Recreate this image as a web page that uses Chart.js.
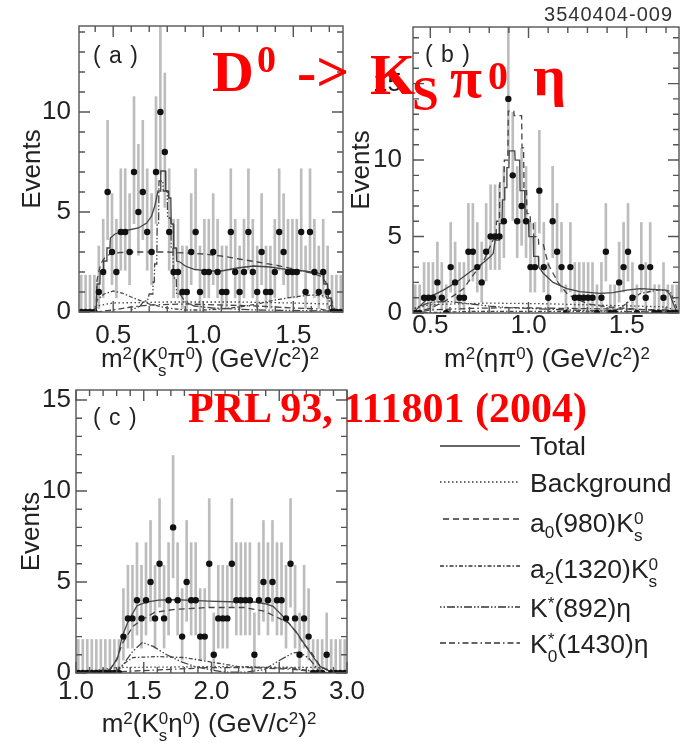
<!DOCTYPE html>
<html>
<head>
<meta charset="utf-8">
<script src="https://cdn.jsdelivr.net/npm/chart.js@4.4.1/dist/chart.umd.min.js"></script>
<style>
  body { margin: 0; background: #fff; }
  #page { position: relative; width: 690px; height: 743px; overflow: hidden; font-family: "Liberation Sans", Arial, sans-serif; color: #222; }
  canvas, .t, svg { position: absolute; }
  .t { white-space: nowrap; line-height: 1; }
  .ax { font-size: 26px; transform: translateX(-50%); }
  .lab { font-size: 23px; letter-spacing: 1px; }
  .leg { font-size: 26.5px; left: 530px; }
  .red { font-family: "Liberation Serif", "Times New Roman", serif; font-weight: bold; color: #ff0000; }
  sup { font-size: 0.65em; line-height: 0; vertical-align: 0.45em; }
  sub { font-size: 0.65em; line-height: 0; vertical-align: -0.35em; }
  .st { display: inline-flex; flex-direction: column; font-size: 0.65em; line-height: 1; vertical-align: 0.45em; }
</style>
</head>
<body>
<div id="page">
  <canvas id="panel-a" width="350" height="350" style="left:0;top:0"></canvas>
  <canvas id="panel-b" width="350" height="350" style="left:340px;top:0"></canvas>
  <canvas id="panel-c" width="380" height="335" style="left:0;top:375px"></canvas>

  <div class="t" style="right:17px;top:4px;font-size:20px;letter-spacing:1px;color:#333">3540404-009</div>

  <div class="t lab" style="left:93px;top:44px">( a )</div>
  <div class="t lab" style="left:425px;top:43px">( b )</div>
  <div class="t lab" style="left:93px;top:406px">( c )</div>

  <div class="t ax" style="left:210px;top:345px">m<sup>2</sup>(K<span class="st"><span>0</span><span>s</span></span>π<sup>0</sup>) (GeV/c<sup>2</sup>)<sup>2</sup></div>
  <div class="t ax" style="left:547px;top:345px">m<sup>2</sup>(ηπ<sup>0</sup>) (GeV/c<sup>2</sup>)<sup>2</sup></div>
  <div class="t ax" style="left:209px;top:710px">m<sup>2</sup>(K<span class="st"><span>0</span><span>s</span></span>η<sup>0</sup>) (GeV/c<sup>2</sup>)<sup>2</sup></div>

  <svg width="690" height="743" style="left:0;top:0">
    <g stroke="#333" stroke-width="1.5" fill="none">
      <line x1="440" y1="446" x2="520" y2="446"/>
      <line x1="440" y1="482" x2="520" y2="482" stroke-dasharray="1.5 2.5"/>
      <line x1="443" y1="519" x2="520" y2="519" stroke-dasharray="6 4"/>
      <line x1="440" y1="566" x2="520" y2="566" stroke-dasharray="4 2 1.5 2"/>
      <line x1="440" y1="607" x2="520" y2="607" stroke-dasharray="1.5 2 1.5 2 8 2"/>
      <line x1="440" y1="643" x2="520" y2="643" stroke-dasharray="6 3 6 3 1.5 3"/>
    </g>
  </svg>
  <div class="t leg" style="top:433px">Total</div>
  <div class="t leg" style="top:470px">Background</div>
  <div class="t leg" style="top:510px">a<sub>0</sub>(980)K<span class="st"><span>0</span><span>s</span></span></div>
  <div class="t leg" style="top:556px">a<sub>2</sub>(1320)K<span class="st"><span>0</span><span>s</span></span></div>
  <div class="t leg" style="top:595px">K<sup>*</sup>(892)η</div>
  <div class="t leg" style="top:631px">K<span class="st"><span>*</span><span>0</span></span>(1430)η</div>

  <div class="t red" style="left:212px;top:43px;font-size:58px">D</div>
  <div class="t red" style="left:257px;top:40px;font-size:38px">0</div>
  <div class="t red" style="left:297px;top:43px;font-size:58px">-&gt;</div>
  <div class="t red" style="left:370px;top:46px;font-size:58px">K</div>
  <div class="t red" style="left:412px;top:70px;font-size:48px">S</div>
  <div class="t red" style="left:450px;top:49px;font-size:58px">π</div>
  <div class="t red" style="left:488px;top:56px;font-size:40px">0</div>
  <div class="t red" style="left:533px;top:47px;font-size:58px">η</div>
  <div class="t red" style="left:188px;top:387px;font-size:42px">PRL 93, 111801 (2004)</div>
</div>

<script>
// Event counts per bin (60 bins per panel)
const aCounts = [0,0,0,0,1,2,6,3,2,4, 4,3,7,5,6,4,3,7,10,8, 4,2,2,1,1,3,4,1,2,2,
                 3,2,1,1,4,2,1,2,4,2, 1,3,1,1,2,4,3,2,2,2, 4,1,4,2,1,2,1,0,0,0];
const bCounts = [0,0,1,1,1,2,1,0,3,2, 1,1,4,4,3,2,4,5,5,5, 6,14,9,6,7,6,3,3,8,3,
                 1,6,4,3,0,3,1,1,1,1, 1,0,1,4,0,0,2,3,4,1, 0,3,1,3,0,0,1,0,0,0];
const cCounts = [0,0,0,0,0,0,0,0,0,0, 2,3,3,4,3,4,5,3,6,3, 4,8,4,2,5,4,4,2,2,6,
                 1,3,3,3,6,4,4,4,4,1, 4,5,4,5,4,4,3,6,3,1, 3,2,0,0,0,1,0,0,0,0];

// histogram ranges (GeV^2) and axis tops
const aRange = [0.31, 1.776];
const bRange = [0.412, 1.766];
const cRange = [1.0, 3.0];
const aYMax = 14.3, bYMax = 18.7, cYMax = 15.55;

const aXTicks = [0.5, 1.0, 1.5];
const bXTicks = [0.5, 1.0, 1.5];
const cXTicks = [1.0, 1.5, 2.0, 2.5, 3.0];
const aYTicks = [0, 5, 10];
const bYTicks = [0, 5, 10, 15];
const cYTicks = [0, 5, 10, 15];

// 68% Poisson intervals for n = 0..14
const poissonLo = [0, 0.173, 0.708, 1.367, 2.086, 2.840, 3.620, 4.419, 5.232, 6.057, 6.891, 7.734, 8.585, 9.441, 10.30];
const poissonHi = [1.841, 3.300, 4.638, 5.918, 7.163, 8.382, 9.584, 10.77, 11.95, 13.11, 14.27, 15.42, 16.56, 17.70, 18.83];

// fit components, [m2, events]
const aTotal = [[0.405,0],[0.41,1.4],[0.426,1.4],[0.428,2.05],[0.445,2.05],[0.447,2.55],[0.463,2.55],[0.465,3.2],[0.482,3.2],[0.484,3.7],
  [0.51,3.9],[0.56,4.05],[0.64,4.2],[0.686,4.45],[0.713,4.8],[0.731,5.3],[0.749,6.05],[0.762,6.05],[0.764,7.05],[0.79,7.05],
  [0.792,6.05],[0.806,6.05],[0.808,5.7],[0.82,5.7],[0.822,4.4],[0.834,4.4],[0.836,3.2],[0.85,3.2],[0.852,2.55],[0.87,2.5],
  [0.9,2.3],[0.95,2.13],[1.03,2.05],[1.1,2.05],[1.19,2.2],[1.28,2.3],[1.37,2.25],[1.46,2.13],[1.56,2.05],[1.63,1.97],
  [1.665,1.85],[1.67,1.4],[1.69,1.4],[1.695,0.7],[1.71,0.7],[1.715,0]];
const aBkg = [[0.40,0],[0.41,0.3],[0.5,0.45],[0.8,0.5],[1.2,0.5],[1.5,0.45],[1.7,0.4],[1.73,0]];
const aA0 = [[0.405,0],[0.41,1.6],[0.43,2.4],[0.46,2.8],[0.5,2.95],[0.6,3.0],[0.8,3.0],[0.9,2.95],[1.0,2.9],[1.1,2.8],
  [1.2,2.65],[1.3,2.5],[1.4,2.35],[1.5,2.15],[1.6,1.95],[1.65,1.8],[1.68,1.5],[1.7,1.0],[1.72,0.4],[1.73,0]];
const aA2 = [[0.405,0],[0.41,0.6],[0.45,0.9],[0.5,1.05],[0.55,0.95],[0.6,0.75],[0.7,0.4],[0.8,0.2],[0.9,0.1],[1.0,0.1],
  [1.1,0.15],[1.2,0.25],[1.3,0.4],[1.4,0.6],[1.5,0.75],[1.6,0.85],[1.68,0.8],[1.72,0.3],[1.74,0]];
const aKst = [[0.6,0.1],[0.65,0.3],[0.67,0.55],[0.69,0.55],[0.7,0.9],[0.72,0.9],[0.722,1.5],[0.728,1.5],[0.73,2.4],[0.742,2.4],
  [0.744,4.4],[0.752,4.4],[0.754,6.55],[0.776,6.55],[0.778,6.05],[0.8,6.05],[0.802,4.7],[0.82,4.7],[0.822,3.2],[0.832,3.2],
  [0.834,1.7],[0.85,1.7],[0.852,0.9],[0.87,0.9],[0.9,0.5],[0.95,0.3],[1.05,0.2],[1.3,0.1],[1.7,0.05]];
const aK0st = [[0.405,0],[0.5,0.1],[0.6,0.25],[0.7,0.35],[0.9,0.4],[1.1,0.35],[1.3,0.3],[1.5,0.2],[1.65,0.15],[1.73,0]];

const bTotal = [[0.42,0.1],[0.45,0.5],[0.5,1.07],[0.567,1.5],[0.636,2.04],[0.703,2.7],[0.754,3.13],[0.805,3.67],[0.82,3.9],[0.83,4.76],
  [0.85,4.76],[0.852,5.85],[0.865,5.85],[0.867,7.4],[0.877,7.4],[0.879,8.2],[0.888,8.2],[0.89,9.5],[0.9,9.5],[0.902,10.6],
  [0.93,10.6],[0.932,10.0],[0.955,10.0],[0.957,8.0],[0.98,8.0],[0.982,6.1],[1.0,6.1],[1.002,5.0],[1.024,5.0],[1.026,3.7],
  [1.05,3.7],[1.052,3.0],[1.075,2.6],[1.125,2.0],[1.195,1.6],[1.26,1.4],[1.364,1.28],[1.43,1.33],[1.5,1.5],[1.57,1.6],
  [1.63,1.55],[1.7,1.5],[1.72,1.2],[1.73,0.85],[1.75,0.2],[1.76,0]];
const bBkg = [[0.42,0.3],[0.5,0.55],[0.8,0.65],[1.1,0.6],[1.4,0.5],[1.7,0.4],[1.76,0.1]];
const bA0 = [[0.42,0.05],[0.5,0.3],[0.585,0.85],[0.636,1.28],[0.67,1.6],[0.70,2.15],[0.737,2.8],[0.77,3.35],[0.82,4.8],[0.835,4.8],
  [0.837,6.0],[0.852,6.0],[0.854,8.5],[0.875,8.5],[0.877,10.0],[0.895,10.0],[0.897,13.2],[0.925,13.2],[0.927,12.9],[0.965,12.9],
  [0.967,10.8],[0.975,10.8],[0.977,8.0],[0.99,8.0],[0.992,6.5],[1.008,6.5],[1.01,5.85],[1.024,5.85],[1.026,5.0],[1.05,5.0],
  [1.052,4.5],[1.075,4.5],[1.1,3.2],[1.15,2.0],[1.2,1.2],[1.3,0.6],[1.4,0.4],[1.5,0.3],[1.6,0.2],[1.7,0.15],[1.76,0]];
const bA2 = [[0.42,0],[0.7,0.1],[1.0,0.1],[1.3,0.1],[1.42,0.15],[1.46,0.25],[1.52,0.85],[1.57,1.28],[1.66,1.5],[1.72,1.45],[1.75,0.5],[1.76,0]];
const bKst = [[0.42,0.3],[0.5,0.7],[0.6,0.75],[0.7,0.6],[0.8,0.45],[0.9,0.35],[1.1,0.25],[1.3,0.15],[1.5,0.1],[1.76,0.05]];
const bK0st = [[0.42,0],[0.5,0.2],[0.7,0.3],[0.9,0.35],[1.2,0.3],[1.5,0.25],[1.7,0.2],[1.76,0]];

const cTotal = [[1.1,0],[1.2,0.05],[1.25,0.2],[1.28,0.5],[1.31,0.9],[1.34,2.0],[1.38,2.75],[1.42,3.3],[1.45,3.7],[1.52,3.9],
  [1.61,4.0],[1.73,4.03],[1.98,3.95],[2.2,3.9],[2.32,3.9],[2.4,3.8],[2.455,3.66],[2.53,3.1],[2.59,2.56],[2.63,2.2],
  [2.68,1.65],[2.73,1.1],[2.80,0.37],[2.87,0.1],[2.95,0]];
const cBkg = [[1.05,0],[1.1,0.1],[1.3,0.3],[2.0,0.35],[2.8,0.3],[2.95,0.05]];
const cA0 = [[1.1,0],[1.25,0.2],[1.3,0.7],[1.34,1.6],[1.42,2.56],[1.48,2.9],[1.58,3.33],[1.73,3.5],[1.98,3.6],[2.24,3.6],
  [2.39,3.4],[2.5,3.0],[2.57,2.75],[2.63,2.2],[2.68,1.6],[2.73,1.2],[2.8,0.4],[2.87,0.1],[2.95,0]];
const cA2 = [[1.1,0],[1.3,0.1],[1.35,0.5],[1.42,0.85],[1.6,0.9],[1.8,0.85],[2.0,0.6],[2.2,0.35],[2.4,0.3],[2.6,0.25],[2.8,0.05],[2.9,0]];
const cKst = [[1.1,0],[1.3,0.1],[1.34,0.37],[1.42,1.2],[1.49,1.68],[1.57,1.46],[1.67,1.0],[1.77,0.64],[1.87,0.37],[1.99,0.18],
  [2.1,0.05],[2.25,0.05],[2.39,0.18],[2.51,0.73],[2.6,1.1],[2.65,1.15],[2.72,0.8],[2.8,0.05],[2.9,0]];
const cK0st = [[1.1,0],[1.4,0.1],[1.7,0.2],[2.0,0.3],[2.3,0.3],[2.6,0.2],[2.8,0.05],[2.9,0]];

// line styles, same as the legend
const dashTotal = [], dashBkg = [1.5, 2.5], dashA0 = [6, 4], dashA2 = [4, 2, 1.5, 2],
      dashKst = [1.5, 2, 1.5, 2, 8, 2], dashK0st = [6, 3, 6, 3, 1.5, 3];

Chart.defaults.font.family = '"Liberation Sans", Arial, sans-serif';
Chart.defaults.font.size = 26;
Chart.defaults.color = '#222';

// PAW style frame: box with inward ticks on all four sides
const frameTicks = {
  id: 'frameTicks',
  afterDraw(chart, args, opts) {
    const { ctx, chartArea: a, scales: { x, y } } = chart;
    ctx.save();
    ctx.strokeStyle = '#555';
    ctx.lineWidth = 1.4;
    ctx.strokeRect(a.left, a.top, a.right - a.left, a.bottom - a.top);
    ctx.beginPath();
    const per = Math.round(opts.xMajor / opts.xMinor);
    for (let i = Math.ceil(x.min / opts.xMinor - 1e-6); i * opts.xMinor <= x.max + 1e-6; i++) {
      const p = x.getPixelForValue(i * opts.xMinor);
      const len = i % per === 0 ? 11 : 6;
      ctx.moveTo(p, a.bottom); ctx.lineTo(p, a.bottom - len);
      ctx.moveTo(p, a.top); ctx.lineTo(p, a.top + len);
    }
    const perY = Math.round(opts.yMajor / opts.yMinor);
    for (let i = Math.ceil(y.min / opts.yMinor - 1e-6); i * opts.yMinor <= y.max + 1e-6; i++) {
      const p = y.getPixelForValue(i * opts.yMinor);
      const len = i % perY === 0 ? 11 : 6;
      ctx.moveTo(a.left, p); ctx.lineTo(a.left + len, p);
      ctx.moveTo(a.right, p); ctx.lineTo(a.right - len, p);
    }
    ctx.stroke();
    ctx.restore();
  }
};

function binCenters(counts, range) {
  const w = (range[1] - range[0]) / counts.length;
  return counts.map((_, i) => range[0] + (i + 0.5) * w);
}

function makePanel(id, counts, range, yMax, xTicks, yTicks, curves, box) {
  const xs = binCenters(counts, range);
  const datasets = [
    {
      type: 'scatter',
      data: counts.map((n, i) => ({ x: xs[i], y: n })),
      pointRadius: 3.2, pointBackgroundColor: '#111', pointBorderWidth: 0,
      order: 0
    },
    ...curves.map(([pts, dash]) => ({
      type: 'line',
      data: pts.map(([x, y]) => ({ x, y })),
      borderColor: '#444', borderWidth: 1.3, borderDash: dash,
      pointRadius: 0, fill: false, tension: 0,
      order: 1
    })),
    {
      type: 'bar',
      data: counts.map((n, i) => ({ x: xs[i], y: [poissonLo[n], poissonHi[n]] })),
      backgroundColor: '#bdbdbd', borderWidth: 0, barThickness: 2,
      order: 2
    }
  ];

  new Chart(document.getElementById(id), {
    type: 'scatter',
    data: { datasets },
    options: {
      responsive: false,
      animation: false,
      devicePixelRatio: 1,
      layout: { padding: box.pad },
      plugins: {
        legend: { display: false },
        tooltip: { enabled: false },
        frameTicks: { xMinor: 0.1, xMajor: 0.5, yMinor: 1, yMajor: 5 }
      },
      scales: {
        x: {
          type: 'linear', min: range[0], max: range[1], offset: false,
          grid: { display: false, drawTicks: false }, border: { display: false },
          ticks: { padding: box.xPad, maxRotation: 0, autoSkip: false, callback: v => Number(v).toFixed(1) },
          afterBuildTicks: s => { s.ticks = xTicks.map(v => ({ value: v })); },
          afterFit: s => { s.height = box.xH; s.paddingLeft = 0; s.paddingRight = 0; }
        },
        y: {
          type: 'linear', min: 0, max: yMax,
          grid: { display: false, drawTicks: false }, border: { display: false },
          ticks: { padding: box.yPad, autoSkip: false, callback: v => String(v) },
          title: { display: true, text: 'Events', padding: { top: box.titlePad, bottom: 0 } },
          afterBuildTicks: s => { s.ticks = yTicks.map(v => ({ value: v })); },
          afterFit: s => { s.width = box.yW; s.paddingTop = 0; s.paddingBottom = 0; }
        }
      }
    },
    plugins: [frameTicks]
  });
}

makePanel('panel-a', aCounts, aRange, aYMax, aXTicks, aYTicks,
  [[aTotal, dashTotal], [aBkg, dashBkg], [aA0, dashA0], [aA2, dashA2], [aKst, dashKst], [aK0st, dashK0st]],
  { pad: { left: 0, right: 7, top: 26, bottom: 0 }, yW: 79, xH: 38, xPad: 8, yPad: 8, titlePad: 17 });

makePanel('panel-b', bCounts, bRange, bYMax, bXTicks, bYTicks,
  [[bTotal, dashTotal], [bBkg, dashBkg], [bA0, dashA0], [bA2, dashA2], [bKst, dashKst], [bK0st, dashK0st]],
  { pad: { left: 0, right: 11, top: 27, bottom: 0 }, yW: 73, xH: 37, xPad: -3, yPad: 11, titlePad: 6 });

makePanel('panel-c', cCounts, cRange, cYMax, cXTicks, cYTicks,
  [[cTotal, dashTotal], [cBkg, dashBkg], [cA0, dashA0], [cA2, dashA2], [cKst, dashKst], [cK0st, dashK0st]],
  { pad: { left: 0, right: 33, top: 15, bottom: 0 }, yW: 76, xH: 37, xPad: 3, yPad: 5, titlePad: 16 });
</script>
</body>
</html>
